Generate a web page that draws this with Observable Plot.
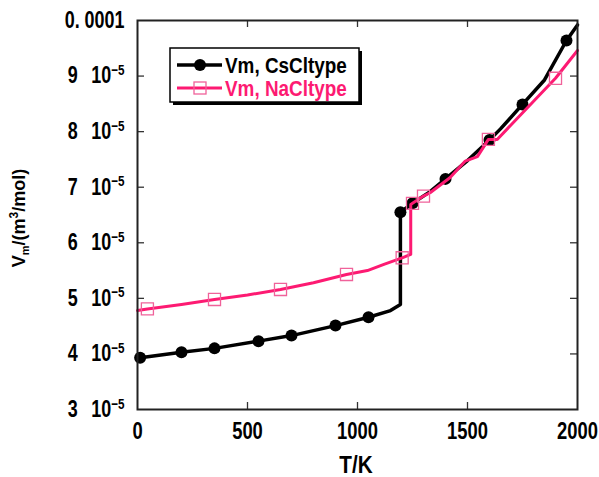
<!DOCTYPE html>
<html><head><meta charset="utf-8">
<script src="https://cdn.jsdelivr.net/npm/d3@7"></script>
<script src="https://cdn.jsdelivr.net/npm/@observablehq/plot@0.6"></script>
<style>
body{margin:0;background:#fff;}
#wrap{position:relative;width:599px;height:477px;}
</style></head><body><div id="wrap"></div>
<script>
// ---- data ----
const csclT = [0, 12, 200, 350, 550, 700, 900, 1050, 1150, 1195, 1195, 1250, 1330, 1400, 1500, 1600, 1650, 1750, 1850, 1950, 2000];
const csclV = [3.92e-5, 3.93e-5, 4.03e-5, 4.10e-5, 4.23e-5, 4.33e-5, 4.51e-5, 4.66e-5, 4.78e-5, 4.89e-5, 6.55e-5, 6.71e-5, 6.92e-5, 7.15e-5, 7.48e-5, 7.85e-5, 8.05e-5, 8.49e-5, 8.93e-5, 9.64e-5, 9.92e-5];
const csclMarkT = [12, 200, 350, 550, 700, 900, 1050, 1195, 1250, 1400, 1600, 1750, 1950];
const csclMarkV = [3.93e-5, 4.03e-5, 4.10e-5, 4.23e-5, 4.33e-5, 4.51e-5, 4.66e-5, 6.55e-5, 6.71e-5, 7.15e-5, 7.85e-5, 8.49e-5, 9.64e-5];

const naclT = [0, 45, 200, 350, 500, 650, 800, 950, 1045, 1120, 1203, 1242, 1242, 1250, 1300, 1330, 1420, 1490, 1545, 1595, 1635, 1900, 2000];
const naclV = [4.78e-5, 4.81e-5, 4.89e-5, 4.98e-5, 5.06e-5, 5.16e-5, 5.28e-5, 5.43e-5, 5.50e-5, 5.61e-5, 5.73e-5, 5.79e-5, 6.69e-5, 6.71e-5, 6.84e-5, 6.90e-5, 7.17e-5, 7.47e-5, 7.55e-5, 7.86e-5, 7.86e-5, 8.96e-5, 9.46e-5];
const naclMarkT = [45, 350, 650, 950, 1203, 1250, 1300, 1595, 1900];
const naclMarkV = [4.81e-5, 4.98e-5, 5.16e-5, 5.43e-5, 5.73e-5, 6.71e-5, 6.84e-5, 7.86e-5, 8.96e-5];

const xTicks = [0, 500, 1000, 1500, 2000];
const xTickLabels = ["0", "500", "1000", "1500", "2000"];
const yTicks = [3e-5, 4e-5, 5e-5, 6e-5, 7e-5, 8e-5, 9e-5, 1e-4];
const yTickLabels = ["3\u2002\u200510|\u22125", "4\u2002\u200510|\u22125", "5\u2002\u200510|\u22125", "6\u2002\u200510|\u22125", "7\u2002\u200510|\u22125", "8\u2002\u200510|\u22125", "9\u2002\u200510|\u22125", "0. 0001"];
const seriesNames = ["Vm, CsCltype", "Vm, NaCltype"];
const xLabel = "T/K";

const FONT = "'Liberation Sans', Arial, sans-serif";
const BLACK = "#000000";
const PINK = "#fd1a72";
const PINK_MARK = "#f0629a";

const cscl = csclT.map((t, i) => ({T: t, V: csclV[i]}));
const csclMarks = csclMarkT.map((t, i) => ({T: t, V: csclMarkV[i]}));
const nacl = naclT.map((t, i) => ({T: t, V: naclV[i]}));
const naclMarks = naclMarkT.map((t, i) => ({T: t, V: naclMarkV[i]}));
const innerTicksX = xTicks.slice(1, -1);
const innerTicksY = yTicks.slice(1, -1);

const W = 599, H = 477, ML = 137, MR = 22, MT = 20, MB = 68;
const IW = W - ML - MR, IH = H - MT - MB;

const chart = Plot.plot({
  width: W, height: H,
  marginLeft: ML, marginRight: MR, marginTop: MT, marginBottom: MB,
  style: {fontFamily: FONT, fontSize: "23px", fontWeight: "bold", background: "white", color: "black", overflow: "visible"},
  x: {domain: [0, 2000]},
  y: {domain: [3e-5, 1e-4]},
  marks: [
    Plot.axisX({ticks: xTicks, tickSize: 0, tickPadding: 13, label: null, tickFormat: d => xTickLabels[xTicks.indexOf(d)]}),
    Plot.axisY({ticks: yTicks, tickSize: 0, tickPadding: 13, label: null, tickFormat: d => yTickLabels[yTicks.indexOf(d)]}),
    Plot.tickX(innerTicksX, {x: d => d, insetTop: IH - 7, stroke: "#333", strokeWidth: 1.3}),
    Plot.tickX(innerTicksX, {x: d => d, insetBottom: IH - 7, stroke: "#333", strokeWidth: 1.3}),
    Plot.tickY(innerTicksY, {y: d => d, insetRight: IW - 7, stroke: "#333", strokeWidth: 1.3}),
    Plot.tickY(innerTicksY, {y: d => d, insetLeft: IW - 7, stroke: "#333", strokeWidth: 1.3}),
    Plot.line(cscl, {x: "T", y: "V", stroke: BLACK, strokeWidth: 3.5, strokeLinejoin: "round"}),
    Plot.dot(csclMarks, {x: "T", y: "V", r: 6, fill: BLACK, stroke: "none"}),
    Plot.line(nacl, {x: "T", y: "V", stroke: PINK, strokeWidth: 3, strokeLinejoin: "round"}),
    Plot.dot(naclMarks, {x: "T", y: "V", symbol: "square", r: 6.8, fill: "none", stroke: PINK_MARK, strokeWidth: 1.3}),
    Plot.frame({stroke: "#222", strokeWidth: 2})
  ]
});

document.getElementById("wrap").appendChild(chart);
const svg = d3.select(chart);

function narrow(sel, k, size) {
  sel.each(function() {
    const t = d3.select(this);
    const tr = t.attr("transform") || "";
    t.attr("transform", tr + ` scale(${k},1)`);
    t.style("font-size", size + "px").style("font-weight", "bold").style("font-family", FONT);
  });
}

// superscripts on y tick labels
svg.selectAll('g[aria-label="y-axis tick label"] text').each(function() {
  const t = d3.select(this);
  const s = t.text();
  if (s.includes("|")) {
    const [a, b] = s.split("|");
    t.text(a);
    t.append("tspan").attr("dy", "-0.55em").style("font-size", "15px").text(b);
  }
});
narrow(svg.selectAll('g[aria-label="y-axis tick label"] text'), 0.78, 23);
narrow(svg.selectAll('g[aria-label="x-axis tick label"] text'), 0.8, 23);

// axis labels
svg.append("text")
  .attr("transform", `translate(${ML + IW / 2 - 1},473) scale(0.9,1)`)
  .attr("text-anchor", "middle")
  .style("font-family", FONT).style("font-weight", "bold").style("font-size", "23px")
  .text(xLabel);

const yl = svg.append("text")
  .attr("transform", `translate(25,218) rotate(-90)`)
  .attr("text-anchor", "middle")
  .style("font-family", FONT).style("font-weight", "bold").style("font-size", "18px");
yl.append("tspan").text("V");
yl.append("tspan").attr("dy", 4).style("font-size", "11px").text("m");
yl.append("tspan").attr("dy", -4).text("/(m");
yl.append("tspan").attr("dy", -7).style("font-size", "12px").text("3");
yl.append("tspan").attr("dy", 7).text("/mol)");

// legend
const lg = svg.append("g").attr("transform", "translate(170,48)");
lg.append("rect").attr("x", 3).attr("y", 3).attr("width", 189).attr("height", 54).attr("fill", "#000");
lg.append("rect").attr("x", 0).attr("y", 0).attr("width", 189).attr("height", 54).attr("fill", "#fff").attr("stroke", "#000").attr("stroke-width", 1.5);
const rows = [
  {name: seriesNames[0], color: BLACK, y: 17},
  {name: seriesNames[1], color: PINK, y: 40}
];
rows.forEach((r, i) => {
  lg.append("line").attr("x1", 7).attr("x2", 52).attr("y1", r.y).attr("y2", r.y)
    .attr("stroke", r.color).attr("stroke-width", i === 0 ? 3.5 : 3);
  if (i === 0) {
    lg.append("circle").attr("cx", 30).attr("cy", r.y).attr("r", 6).attr("fill", BLACK);
  } else {
    lg.append("rect").attr("x", 24).attr("y", r.y - 6).attr("width", 12).attr("height", 12)
      .attr("fill", "none").attr("stroke", PINK_MARK).attr("stroke-width", 1.3);
  }
  lg.append("text").attr("transform", `translate(55,${r.y + 8}) scale(0.86,1)`)
    .attr("text-anchor", "start")
    .style("font-family", FONT).style("font-weight", "bold").style("font-size", "22px")
    .attr("fill", r.color).text(r.name);
});
</script>
</body></html>
